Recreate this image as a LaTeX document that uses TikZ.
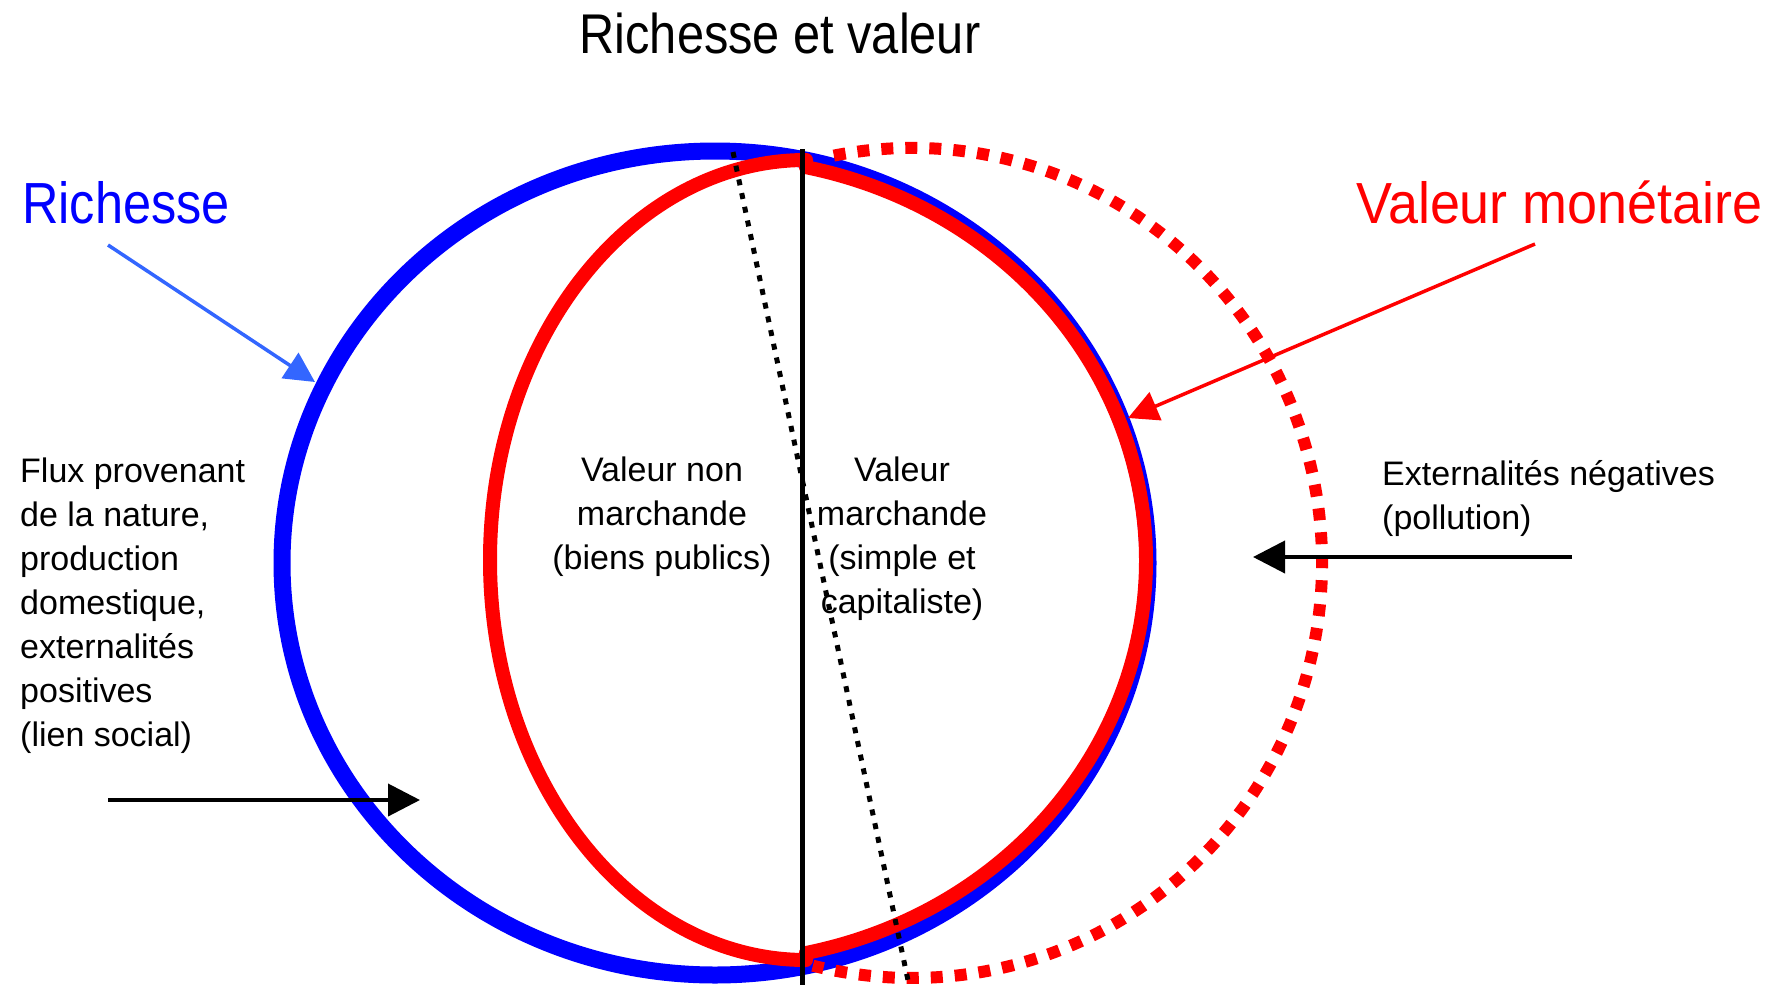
\documentclass[tikz,border=0pt]{standalone}
\usepackage{fontspec}
\setmainfont{Liberation Sans}
\newfontfamily\narrowsans[FakeStretch=0.87]{Liberation Sans}
\newfontfamily\midsans[FakeStretch=0.93]{Liberation Sans}
\usetikzlibrary{arrows.meta}
\definecolor{richblue}{RGB}{0,0,255}
\definecolor{arrowblue}{RGB}{51,102,255}
\definecolor{valred}{RGB}{255,0,0}
\tikzset{
  bigtitle/.style={font=\narrowsans\fontsize{56}{60}\selectfont, inner sep=0pt, anchor=base},
  biglabel/.style={font=\narrowsans\fontsize{58}{62}\selectfont, inner sep=0pt},
  bodytext/.style={font=\fontsize{34}{44}\selectfont, inner sep=0pt},
  flowarrow/.style={line width=4pt, -{Triangle[length=32pt,width=32pt]}},
  pointer/.style={line width=3.5pt, -{Triangle[length=30pt,width=30pt]}},
}
\begin{document}
\begin{tikzpicture}[x=1pt,y=-1pt]
\useasboundingbox (0,0) rectangle (1783,986);
\draw[richblue, line width=17pt] (715,563) ellipse[x radius=433, y radius=412];
\draw[valred, line width=14pt, line join=round] (806,160)
  arc[start angle=-90, end angle=-270, x radius=316, y radius=400]
  -- (806,953) arc[start angle=77.8, end angle=-77.8, x radius=431, y radius=402] -- cycle;
\draw[valred, line width=12pt, dash pattern=on 12pt off 12pt] (833.8,155.6)
  arc[start angle=-101, end angle=104, x radius=410, y radius=415];
\draw[line width=5pt] (802,149) -- (802,985);
\draw[line width=5pt, dash pattern=on 6pt off 8pt] (733,152) -- (909,985);

\node[bigtitle] (title) at (780,53) {Richesse et valeur};
\node[biglabel, anchor=base west, text=richblue] (richesse) at (22,223) {Richesse};
\node[biglabel, font=\midsans\fontsize{58}{62}\selectfont, anchor=base east, text=valred] (valmon) at (1763,223) {Valeur monétaire};
\node[bodytext, anchor=north west, align=left] (flux) at (20,458)
  {Flux provenant\\de la nature,\\production\\domestique,\\externalités\\positives\\(lien social)};
\node[bodytext, anchor=north, align=center] (nonmarch) at (662,457)
  {Valeur non\\marchande\\(biens publics)};
\node[bodytext, anchor=north, align=center] (march) at (902,457)
  {Valeur\\marchande\\(simple et\\capitaliste)};
\node[bodytext, anchor=north west, align=left] (exter) at (1382,460)
  {Externalités négatives\\(pollution)};

\coordinate (richfoot) at (108,245);
\coordinate (richtip) at (315,382);
\coordinate (valfoot) at (1535,244);
\coordinate (valtip) at (1128,418);
\coordinate (fluxfoot) at (108,800);
\coordinate (fluxtip) at (420,800);
\coordinate (exterfoot) at (1572,557);
\coordinate (extertip) at (1253,557);
\draw[pointer, arrowblue] (richfoot) -- (richtip);
\draw[pointer, valred] (valfoot) -- (valtip);
\draw[flowarrow] (fluxfoot) -- (fluxtip);
\draw[flowarrow] (exterfoot) -- (extertip);
\end{tikzpicture}
\end{document}
